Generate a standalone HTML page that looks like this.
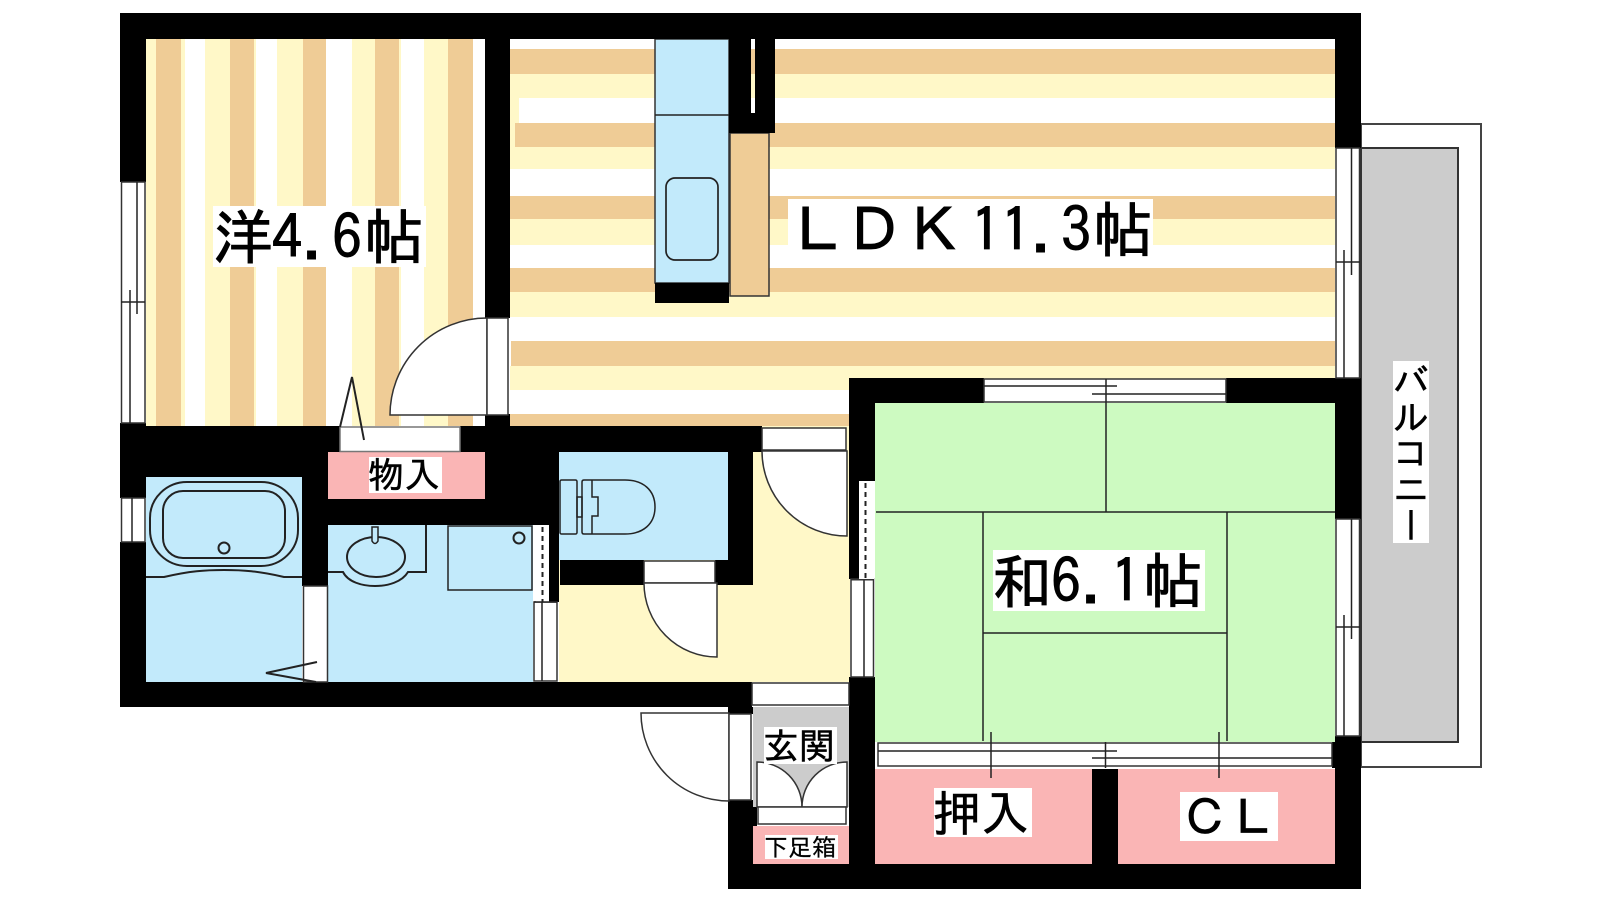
<!DOCTYPE html>
<html lang="ja"><head><meta charset="utf-8"><title>間取り図</title>
<style>
html,body{margin:0;padding:0;background:#fff;width:1600px;height:900px;overflow:hidden}
svg{display:block;position:absolute;left:0;top:0}
text{font-family:"IPAGothic","Noto Sans CJK JP",sans-serif;fill:#000;stroke:#000;stroke-width:.9px}
.v{position:absolute;left:1393px;top:361px;width:36px;height:182px;background:#fff;writing-mode:vertical-rl;font:36px/36px "IPAGothic","Noto Sans CJK JP",sans-serif;color:#000;text-align:center;-webkit-text-stroke:.5px #000}
</style></head><body>
<svg width="1600" height="900" viewBox="0 0 1600 900" xmlns="http://www.w3.org/2000/svg">
<!-- balcony -->
<rect x="1361" y="124" width="120" height="643" fill="#fff" stroke="#444" stroke-width="2"/>
<rect x="1361" y="148" width="97" height="594" fill="#ccc" stroke="#333" stroke-width="2"/>

<!-- west room stripes -->
<rect x="146" y="39" width="339" height="387" fill="#fff"/>
<g fill="#FFF8C8">
<rect x="146" y="39" width="39" height="387"/><rect x="205" y="39" width="51" height="387"/><rect x="277" y="39" width="49" height="387"/><rect x="352" y="39" width="49" height="387"/><rect x="424" y="39" width="49" height="387"/>
</g>
<g fill="#EFCC96">
<rect x="156" y="39" width="25" height="387"/><rect x="230" y="39" width="24" height="387"/><rect x="303" y="39" width="23" height="387"/><rect x="375" y="39" width="24" height="387"/><rect x="448" y="39" width="25" height="387"/>
</g>
<!-- LDK stripes -->
<rect x="510" y="39" width="825" height="387" fill="#fff"/>
<g fill="#FFF8C8">
<rect x="510" y="74" width="825" height="24"/><rect x="510" y="98" width="9" height="25"/><rect x="510" y="147" width="825" height="22"/><rect x="510" y="219" width="825" height="26"/><rect x="510" y="292" width="825" height="25"/><rect x="510" y="366" width="825" height="24"/>
<rect x="510" y="123" width="5" height="24"/>
</g>
<g fill="#EFCC96">
<rect x="510" y="49" width="825" height="25"/><rect x="515" y="123" width="820" height="24"/><rect x="510" y="196" width="825" height="23"/><rect x="510" y="268" width="825" height="24"/><rect x="511" y="341" width="824" height="25"/><rect x="510" y="414" width="825" height="12"/>
</g>
<!-- hall -->
<rect x="559" y="426" width="291" height="256" fill="#FFF8C8"/>
<!-- toilet / bath / wash -->
<rect x="559" y="452" width="169" height="108" fill="#C2EAFB"/>
<rect x="146" y="477" width="156" height="205" fill="#C2EAFB"/>
<rect x="328" y="525" width="205" height="157" fill="#C2EAFB"/>
<!-- pink -->
<g fill="#FAB5B5">
<rect x="328" y="452" width="157" height="47"/>
<rect x="753" y="826" width="96" height="38"/>
<rect x="875" y="769" width="217" height="95"/>
<rect x="1118" y="769" width="217" height="95"/>
</g>
<!-- entrance grey -->
<rect x="753" y="707" width="96" height="100" fill="#ccc"/>
<!-- tatami -->
<rect x="875" y="403" width="460" height="339" fill="#CDFAC1"/>
<!-- kitchen -->
<rect x="655" y="39" width="74" height="244" fill="#C2EAFB" stroke="#333" stroke-width="1.5"/>
<line x1="655" y1="115" x2="729" y2="115" stroke="#222" stroke-width="1.5"/>
<rect x="666" y="178" width="52" height="82" rx="9" fill="none" stroke="#222" stroke-width="1.7"/>
<rect x="730" y="133" width="39" height="163" fill="#EFCC96" stroke="#333" stroke-width="1.5"/>

<!-- walls -->
<g fill="#000">
<rect x="120" y="13" width="1241" height="26"/>
<rect x="120" y="13" width="26" height="169"/>
<rect x="120" y="423" width="26" height="75"/>
<rect x="120" y="542" width="26" height="165"/>
<rect x="120" y="682" width="632" height="25"/>
<rect x="120" y="426" width="220" height="26"/>
<rect x="146" y="452" width="182" height="25"/>
<rect x="302" y="477" width="26" height="109"/>
<rect x="460" y="426" width="50" height="26"/>
<rect x="485" y="39" width="25" height="279"/>
<rect x="485" y="414" width="25" height="38"/>
<rect x="485" y="426" width="277" height="26"/>
<rect x="485" y="452" width="74" height="73"/>
<rect x="302" y="499" width="257" height="26"/>
<rect x="549" y="525" width="10" height="77"/>
<rect x="728" y="426" width="25" height="159"/>
<rect x="560" y="560" width="84" height="25"/>
<rect x="715" y="560" width="38" height="25"/>
<rect x="729" y="39" width="22" height="94"/>
<rect x="755" y="39" width="20" height="94"/>
<rect x="729" y="113" width="46" height="20"/>
<rect x="655" y="283" width="74" height="20"/>
<rect x="849" y="378" width="26" height="103"/>
<rect x="849" y="481" width="10" height="98"/>
<rect x="849" y="378" width="135" height="25"/>
<rect x="1226" y="378" width="135" height="25"/>
<rect x="1335" y="13" width="26" height="135"/>
<rect x="1335" y="378" width="26" height="141"/>
<rect x="1335" y="736" width="26" height="153"/>
<rect x="1332" y="742" width="3" height="26"/>
<rect x="849" y="677" width="26" height="212"/>
<rect x="728" y="707" width="25" height="7"/>
<rect x="728" y="800" width="25" height="89"/>
<rect x="753" y="807" width="4" height="19"/>
<rect x="728" y="864" width="633" height="25"/>
<rect x="1092" y="769" width="26" height="95"/>
</g>

<g fill="#fff" stroke="#333" stroke-width="1.5">
<!-- west window -->
<rect x="121.500" y="182" width="23.500" height="241"/>
<!-- bath window -->
<rect x="121.500" y="498" width="23.500" height="44"/>
<!-- closet opening -->
<rect x="340" y="427" width="120" height="24.500" stroke="#777"/>
<!-- west door -->
<path d="M390 415 A97 97 0 0 1 487 318 V415 Z"/>
<rect x="487" y="318" width="21" height="97"/>
<!-- bath door -->
<rect x="303.500" y="586" width="24" height="96"/>
<!-- wash window -->
<rect x="534" y="602" width="23" height="79"/>
<!-- hall doors -->
<rect x="762" y="428" width="84" height="22"/>
<path d="M762 451 H847 V536 A85 85 0 0 1 762 451 Z"/>
<rect x="644" y="561" width="71" height="22"/>
<path d="M644 583 H717 V657 A73 74 0 0 1 644 583 Z"/>
<!-- east windows -->
<rect x="1336" y="148" width="23.500" height="230"/>
<rect x="1336" y="519" width="23.500" height="217"/>
<!-- hall-tatami window -->
<rect x="851" y="579" width="22.500" height="98"/>
<!-- top tatami window -->
<rect x="984" y="379" width="242" height="23"/>
<!-- closet window -->
<rect x="878" y="743" width="454" height="23"/>
<!-- entrance top -->
<rect x="752" y="683" width="97" height="22"/>
<!-- exterior door -->
<path d="M641 713 H729 V801 A88 88 0 0 1 641 713 Z"/>
<rect x="729" y="714" width="22" height="86"/>
<!-- entrance doors -->
<path d="M757 762 V807 H802 A45 45 0 0 0 757 762 Z"/>
<path d="M847 762 V807 H802 A45 45 0 0 1 847 762 Z"/>
<rect x="758" y="807" width="88" height="17"/>
<!-- dashed windows -->
<rect x="536" y="525" width="13" height="77" stroke="none"/>
<rect x="859" y="481" width="15" height="98" stroke="none"/>
</g>

<g fill="none" stroke="#222" stroke-width="1.500">
<!-- window rails -->
<path d="M121 302 H145 M130 290 V423 M137 182 V314"/>
<path d="M132 498 V542"/>
<path d="M542 602 V681 M534 602 H557"/>
<path d="M1336 262 H1360 M1344 250 V378 M1351.500 148 V275"/>
<path d="M1336 627 H1360 M1344 615 V736 M1351.500 519 V639"/>
<path d="M864 579 V677"/>
<path d="M984 386 H1117 M1092 394 H1226 M1106 379 V403"/>
<path d="M878 751 H1117 M1092 758 H1332 M1105.500 742 V768"/>
<path d="M991 732 V778 M1219 732 V778"/>
<!-- tatami -->
<path d="M1106 403 V512 M876 512 H1335 M983 512 V741 M1227 512 V741 M983 633 H1227"/>
<!-- closet door -->
<path d="M340 427 L352 377 L364 440" stroke-width="2"/>
<!-- bath door triangle -->
<path d="M317 662 L266 673 L316 682" stroke-width="2"/>
<!-- tub -->
<rect x="150" y="482" width="148" height="84" rx="37" ry="36" stroke-width="2"/>
<rect x="163" y="491" width="122" height="67" rx="20" ry="20" stroke-width="2"/>
<circle cx="224" cy="548" r="5.500" stroke-width="2"/>
<path d="M146 577 H164 C190 571 205 570 224 570 C243 570 258 571 284 577 H302" stroke-width="2"/>
<!-- sink -->
<path d="M328 572 H343 C348 582 362 586 375 586 C388 586 402 582 408 572 H426 V525" stroke-width="2"/>
<ellipse cx="376" cy="557" rx="29" ry="20" stroke-width="2"/>
<path d="M372 527 H378 V541 Q375 546 372 541 Z" fill="#C2EAFB" stroke-width="1.500"/>
<!-- washer -->
<rect x="448" y="526" width="84" height="64"/>
<circle cx="519" cy="538" r="5.500" stroke-width="2"/>
<!-- toilet -->
<rect x="560" y="480" width="17" height="54" rx="1.500"/>
<rect x="577" y="497" width="5" height="20"/>
<path d="M582 482 Q582 480 584 480 H625 C643 480 655 490 655 507 C655 524 643 534 625 534 H584 Q582 534 582 532 Z"/>
<path d="M592 480 V497 H598 V516 H592 V534"/>
</g>
<g fill="none" stroke="#222" stroke-width="2" stroke-dasharray="5 4">
<path d="M542.500 527 V602"/>
<path d="M865.500 483 V579"/>
</g>
<rect x="851" y="579" width="22" height="1.500" fill="#333"/>

<!-- label backgrounds -->
<g fill="#fff">
<rect x="213" y="206" width="213" height="61"/>
<rect x="788" y="199" width="365" height="47"/>
<rect x="993" y="550" width="212" height="61"/>
<rect x="369" y="457" width="73" height="36"/>
<rect x="764" y="727" width="73" height="37"/>
<rect x="765" y="835" width="73" height="24"/>
<rect x="934" y="788" width="98" height="49"/>
<rect x="1180" y="792" width="98" height="49"/>
</g>
<text x="213 272 302 332 364" y="259" font-size="60">洋4.6帖</text>
<text x="788 844 904 971 1001 1031 1061 1093" y="252" font-size="60">ＬＤＫ11.3帖</text>
<text x="992 1051 1081 1111 1143" y="603" font-size="60">和6.1帖</text>
<text x="368" y="488" font-size="36" style="stroke-width:.5px">物入</text>
<text x="763" y="759" font-size="36" style="stroke-width:.5px">玄関</text>
<text x="764" y="856" font-size="24" style="stroke-width:.3px">下足箱</text>
<text x="933" y="831" font-size="48" style="stroke-width:.7px">押入</text>
<text x="1181" y="835" font-size="48" style="stroke-width:.7px">ＣＬ</text>
</svg>
<div class="v">バルコニー</div>
</body></html>
